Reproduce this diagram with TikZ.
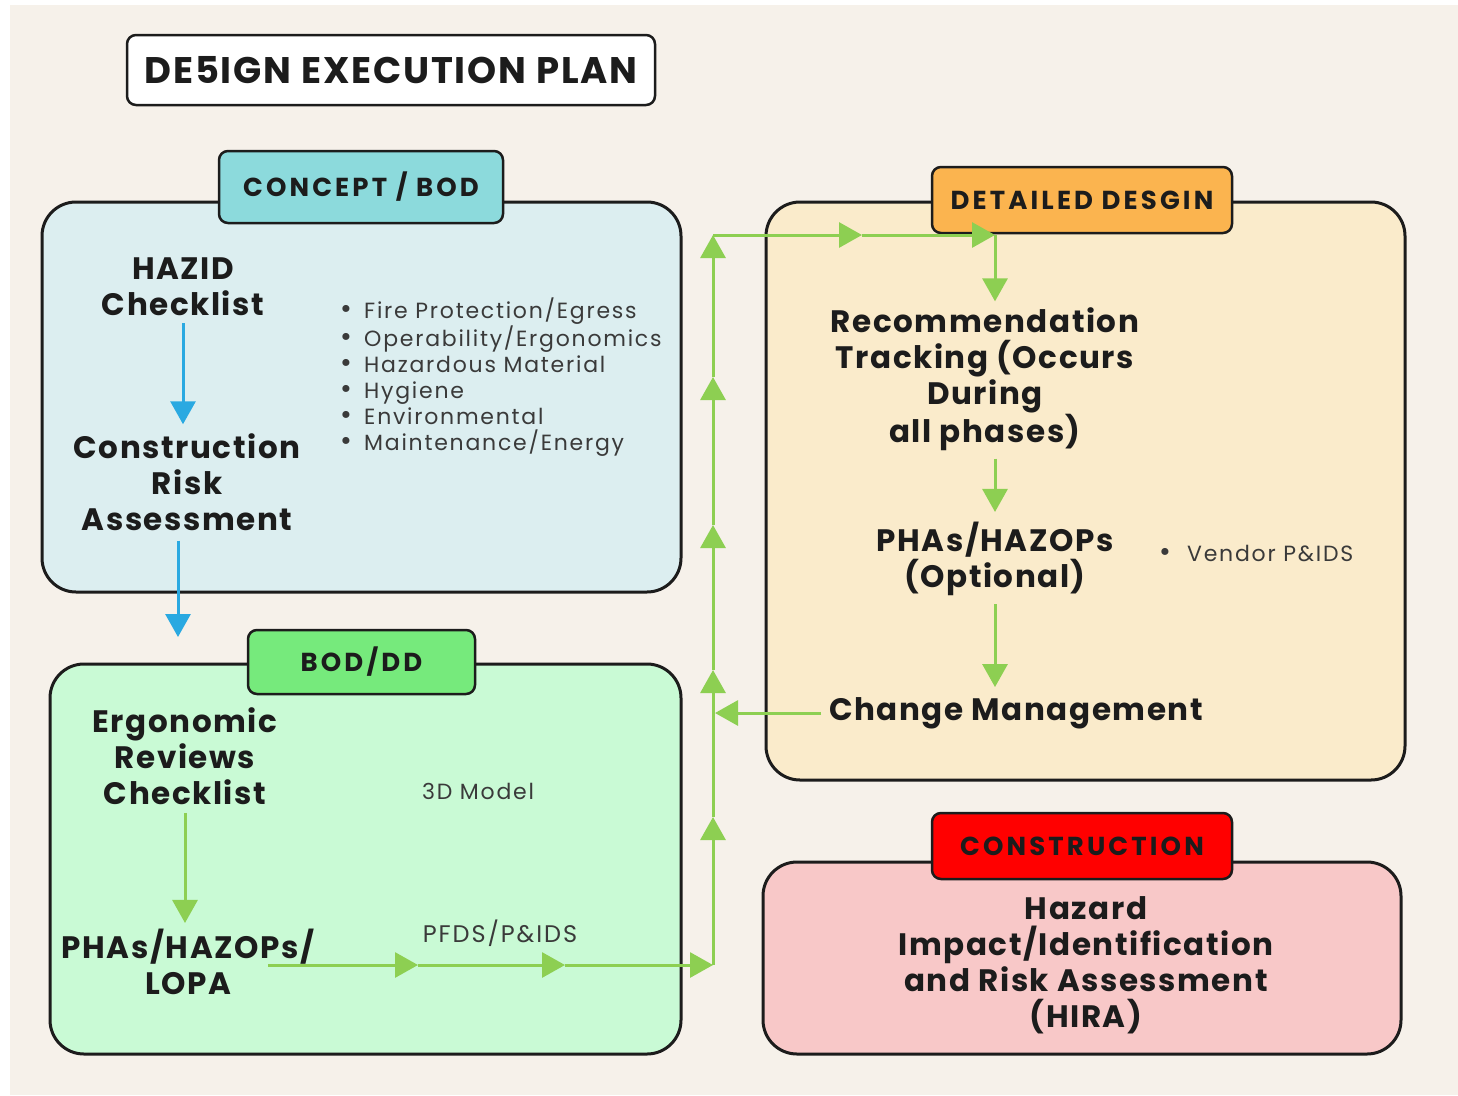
\documentclass[tikz,border=0pt]{standalone}
\usepackage{fontspec}
\setmainfont{Poppins}
\usetikzlibrary{arrows.meta}
\definecolor{paper}{HTML}{F6F1EA}
\definecolor{ink}{HTML}{1C1C1C}
\definecolor{note}{HTML}{3A3A3A}
\definecolor{conceptfill}{HTML}{DCEEF0}
\definecolor{concepttab}{HTML}{8CDADC}
\definecolor{bodfill}{HTML}{C9FAD5}
\definecolor{bodtab}{HTML}{76EA7C}
\definecolor{detailfill}{HTML}{FAEBCB}
\definecolor{detailtab}{HTML}{FBB44F}
\definecolor{constrfill}{HTML}{F8C8C8}
\definecolor{constrtab}{HTML}{FF0000}
\definecolor{leaf}{HTML}{8DCF52}
\definecolor{sky}{HTML}{2AA9E1}
\newcommand{\titlefont}{\fontsize{37}{40}\selectfont\bfseries\addfontfeatures{LetterSpace=5}}
\newcommand{\tabfont}{\fontsize{26}{30}\selectfont\bfseries\addfontfeatures{LetterSpace=12}}
\newcommand{\headfont}{\fontsize{31}{36}\selectfont\bfseries\addfontfeatures{LetterSpace=5}}
\newcommand{\notefont}{\fontsize{22}{26}\selectfont\addfontfeatures{LetterSpace=8}}

\begin{document}
\begin{tikzpicture}[x=1pt,y=-1pt]
    \tikzstyle{box}=[draw=ink,line width=3pt,rounded corners=34pt,inner sep=0]
    \tikzstyle{tab}=[draw=ink,line width=2.5pt,rounded corners=9pt,inner sep=0,font=\tabfont,text=ink]
    \tikzstyle{head}=[align=center,inner sep=0,font=\headfont,text=ink]
    \tikzstyle{note}=[align=left,inner sep=0,font=\notefont,text=note]
    \tikzstyle{flow}=[draw=leaf,line width=3pt,-{Triangle[length=23pt,width=25pt]}]
    \tikzstyle{down}=[draw=sky,line width=3pt,-{Triangle[length=23pt,width=25pt]}]
    \newcommand{\bul}[1][24pt]{\makebox[#1][l]{\smash{\scalebox{1.3}{\textbullet}}}}

    \path[fill=white] (0,0) rectangle (1458,1095);
    \path[fill=paper] (10,5) rectangle (1458,1095);
    \useasboundingbox (0,0) rectangle (1458,1095);

    \path (391,70) node[draw=ink,line width=2.5pt,fill=white,rounded corners=9pt,minimum width=528pt,minimum height=70pt,font=\titlefont,text=ink] (title) {DE5IGN EXECUTION PLAN};

    \path (361.5,397) node[box,fill=conceptfill,minimum width=639pt,minimum height=390pt] (concept) {};
    \path (365.5,859) node[box,fill=bodfill,minimum width=631pt,minimum height=390pt] (bod) {};
    \path (1085.5,491) node[box,fill=detailfill,minimum width=639pt,minimum height=578pt] (detail) {};
    \path (1082,958) node[box,fill=constrfill,minimum width=638pt,minimum height=192pt] (constr) {};

    \path (361,187) node[tab,fill=concepttab,minimum width=284pt,minimum height=72pt] (conceptTab) {CONCEPT / BOD};
    \path (361.5,662) node[tab,fill=bodtab,minimum width=227pt,minimum height=64pt] (bodTab) {BOD/DD};
    \path (1082,200) node[tab,fill=detailtab,minimum width=300pt,minimum height=66pt] (detailTab) {DETAILED DESGIN};
    \path (1082,846) node[tab,fill=constrtab,minimum width=300pt,minimum height=66pt] (constrTab) {CONSTRUCTION};

    \path (183,287) node[head] (hazid) {HAZID\\Checklist};
    \path (187,482) node[head] (cra) {Construction\\Risk\\Assessment};
    \path (340,377) node[note,anchor=west] (hazards) {\bul Fire Protection/Egress\\\bul Operability/Ergonomics\\\bul Hazardous Material\\\bul Hygiene\\\bul Environmental\\\bul Maintenance/Energy};

    \path (185,756) node[head] (ergo) {Ergonomic\\Reviews\\Checklist};
    \path (188,962) node[head] (phaBod) {PHAs/HAZOPs/\\LOPA};
    \path (478,791) node[note] (model) {3D Model};
    \path (500,933) node[note,font=\notefont\fontsize{24}{28}\selectfont] (pfds) {PFDS/P\&IDS};

    \path (985,379) node[head] (rec) {Recommendation\\Tracking (Occurs\\During\\all phases)};
    \path (995,559) node[head] (phaDet) {PHAs/HAZOPs\\(Optional)};
    \path (1159,553) node[note,anchor=west] (vendor) {\bul[28pt]Vendor P\&IDS};
    \path (1016,713) node[head] (change) {Change Management};

    \path (1086,965) node[head] (hira) {Hazard\\Impact/Identification\\and Risk Assessment\\(HIRA)};

    \coordinate (lopaOut) at (268,965);
    \coordinate (p1) at (418,965);
    \coordinate (p2) at (565,965);
    \coordinate (c1) at (713,965);
    \coordinate (u1) at (713,817);
    \coordinate (u2) at (713,670);
    \coordinate (u3) at (713,525);
    \coordinate (u4) at (713,377);
    \coordinate (c2) at (713,235);
    \coordinate (r1) at (862,235);
    \coordinate (c3) at (995,235);
    \coordinate (bluEnd) at (178,637);

    \draw[down,shorten <=7pt,shorten >=9pt] (hazid.south) -- (hazid.south |- cra.north);
    \draw[down,shorten <=10pt] (bluEnd |- cra.south) -- (bluEnd);
    \draw[flow,shorten <=8pt,shorten >=6pt] (ergo.south) -- (ergo.south |- phaBod.north);

    \draw[flow] (lopaOut) -- (p1);
    \draw[flow] (p1) -- (p2);
    \draw[flow] (p2) -- (c1);
    \draw[flow] (c1) -- (u1);
    \draw[flow] (u1) -- (u2);
    \draw[flow] (u2) -- (u3);
    \draw[flow] (u3) -- (u4);
    \draw[flow] (u4) -- (c2);
    \draw[flow] (c2) -- (r1);
    \draw[flow] (r1) -- (c3);
    \draw[flow,shorten >=6pt] (c3) -- (c3 |- rec.north);
    \draw[flow,shorten <=8pt,shorten >=10pt] (rec.south -| c3) -- (phaDet.north -| c3);
    \draw[flow,shorten <=8pt,shorten >=10pt] (phaDet.south -| c3) -- (change.north -| c3);
    \draw[flow,shorten <=8pt,shorten >=2pt] (change.west) -- (change.west -| c1);
\end{tikzpicture}
\end{document}
